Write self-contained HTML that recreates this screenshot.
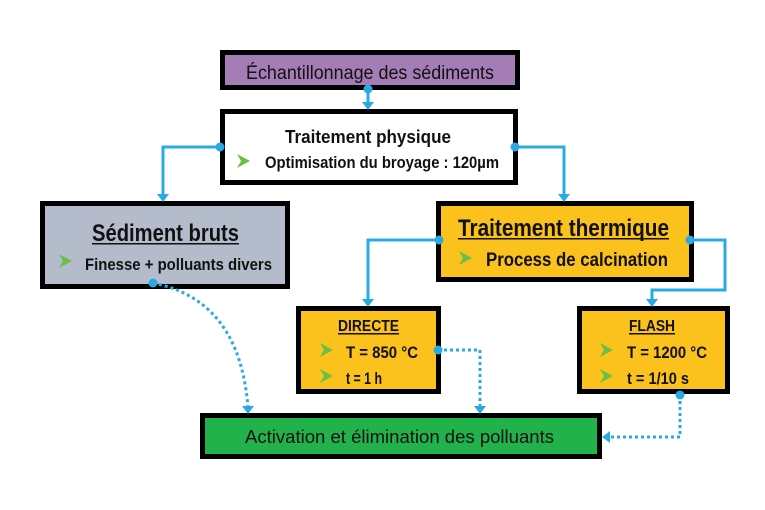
<!DOCTYPE html>
<html><head><meta charset="utf-8"><style>body{margin:0;background:#fff}svg{display:block}text{font-family:"Liberation Sans Narrow","Liberation Sans",sans-serif;fill:#111;font-weight:bold}</style></head><body>
<svg width="765" height="510" viewBox="0 0 765 510" xmlns="http://www.w3.org/2000/svg">
<g stroke="#000" stroke-width="5">
<rect x="222.5" y="52.5" width="295" height="35" fill="#a47db6"/>
<rect x="222.5" y="111.5" width="293" height="71" fill="#fff"/>
<rect x="42.5" y="203.5" width="245" height="83" fill="#b4bccb"/>
<rect x="438.5" y="203.5" width="253" height="76" fill="#fbc11d"/>
<rect x="298.5" y="308.5" width="140" height="83" fill="#fbc11d"/>
<rect x="579.5" y="308.5" width="148" height="83" fill="#fbc11d"/>
<rect x="202.5" y="415.5" width="397" height="41" fill="#22b24c"/>
</g>
<g stroke="#29abe2" stroke-width="3" fill="none">
<path d="M368,89 V104"/>
<path d="M220,147 H163 V196"/>
<path d="M515,147 H564 V196"/>
<path d="M439,240 H368 V301"/>
<path d="M690,240 H725 V290 H652 V301"/>
<g stroke-dasharray="3,3">
<path d="M153,283 Q240,300 248,408"/>
<path d="M438,350 H480 V408"/>
<path d="M680,395 V437 H608"/>
</g>
</g>
<g fill="#29abe2">
<path d="M362,102 h12 l-6,8z"/><path d="M157,194 h12 l-6,8z"/><path d="M558,194 h12 l-6,8z"/>
<path d="M362,299 h12 l-6,8z"/><path d="M646,299 h12 l-6,8z"/>
<path d="M242,406 h12 l-6,8z"/><path d="M474,406 h12 l-6,8z"/><path d="M610,431 v12 l-8,-6z"/>
<circle cx="368" cy="89" r="4.5"/><circle cx="220" cy="147" r="4.5"/><circle cx="515" cy="147" r="4.5"/>
<circle cx="439" cy="240" r="4.5"/><circle cx="690" cy="240" r="4.5"/><circle cx="153" cy="283" r="4.5"/>
<circle cx="438" cy="350" r="4.5"/><circle cx="680" cy="395" r="4.5"/>
</g>
<g fill="#6abf45">
<path d="M237,154 l13,7 l-13,7 l4,-7z"/>
<path d="M59,254 l13,7 l-13,7 l4,-7z"/>
<path d="M459,251 l13,7 l-13,7 l4,-7z"/>
<path d="M320,343 l13,7 l-13,7 l4,-7z"/><path d="M320,369 l13,7 l-13,7 l4,-7z"/>
<path d="M600,343 l13,7 l-13,7 l4,-7z"/><path d="M600,369 l13,7 l-13,7 l4,-7z"/>
</g>
<text x="246" y="79" font-size="19" textLength="248" lengthAdjust="spacingAndGlyphs" style="font-weight:normal">Échantillonnage des sédiments</text>
<text x="285" y="143" font-size="18" textLength="166" lengthAdjust="spacingAndGlyphs">Traitement physique</text>
<text x="265" y="168" font-size="17" textLength="234" lengthAdjust="spacingAndGlyphs">Optimisation du broyage : 120µm</text>
<text x="92" y="241" font-size="24" textLength="147" lengthAdjust="spacingAndGlyphs">Sédiment bruts</text>
<rect x="92" y="243" width="147" height="1.5" fill="#111"/>
<text x="85" y="270" font-size="17" textLength="187" lengthAdjust="spacingAndGlyphs">Finesse + polluants divers</text>
<text x="458" y="236" font-size="24" textLength="211" lengthAdjust="spacingAndGlyphs">Traitement thermique</text>
<rect x="458" y="238" width="211" height="1.5" fill="#111"/>
<text x="486" y="266" font-size="19" textLength="182" lengthAdjust="spacingAndGlyphs">Process de calcination</text>
<text x="338" y="331" font-size="16" textLength="61" lengthAdjust="spacingAndGlyphs">DIRECTE</text>
<rect x="338" y="333" width="61" height="1.5" fill="#111"/>
<text x="346" y="358" font-size="17" textLength="72" lengthAdjust="spacingAndGlyphs">T = 850 °C</text>
<text x="346" y="384" font-size="17" textLength="36" lengthAdjust="spacingAndGlyphs">t = 1 h</text>
<text x="629" y="331" font-size="16" textLength="46" lengthAdjust="spacingAndGlyphs">FLASH</text>
<rect x="629" y="333" width="46" height="1.5" fill="#111"/>
<text x="627" y="358" font-size="17" textLength="80" lengthAdjust="spacingAndGlyphs">T = 1200 °C</text>
<text x="627" y="384" font-size="17" textLength="62" lengthAdjust="spacingAndGlyphs">t = 1/10 s</text>
<text x="245" y="443" font-size="18" textLength="309" lengthAdjust="spacingAndGlyphs" style="font-weight:normal">Activation et élimination des polluants</text>
</svg>
</body></html>
